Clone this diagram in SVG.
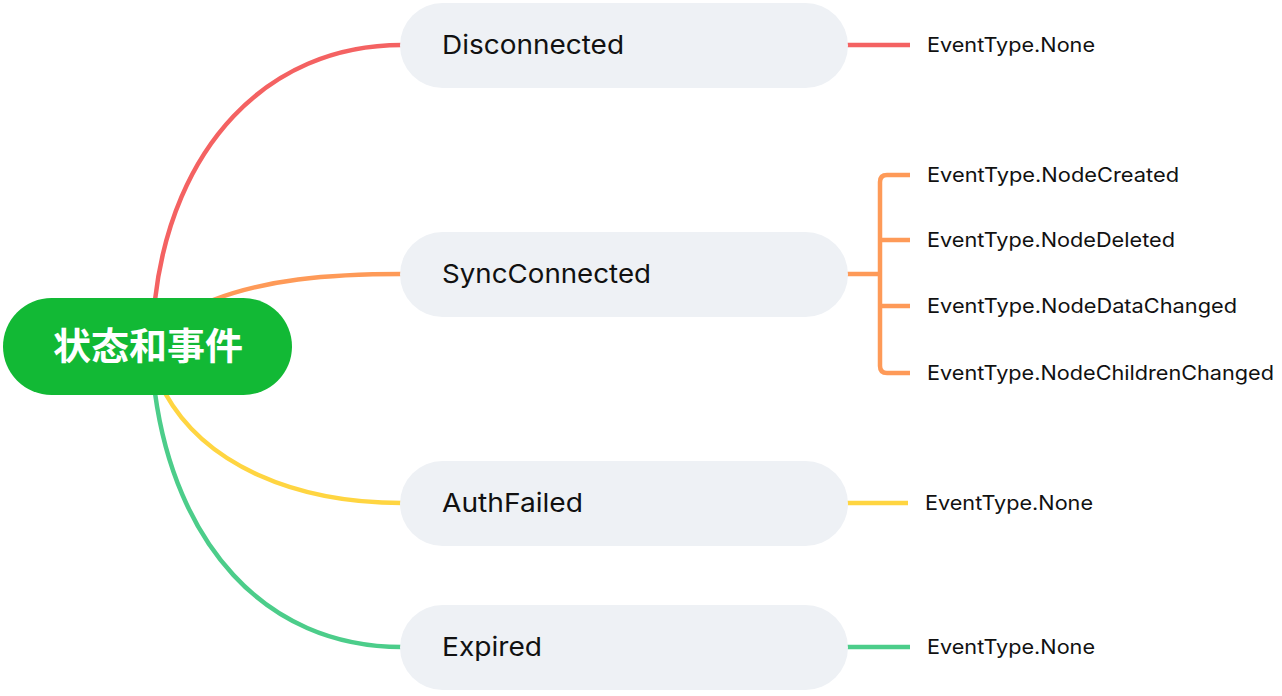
<svg xmlns="http://www.w3.org/2000/svg" width="1282" height="696" viewBox="0 0 1282 696">
<style>
.node rect{fill:#eef1f5}
.lbl{font-family:Inter,"Noto Sans","Liberation Sans",sans-serif;font-size:26px;fill:#111}
.leaf{font-family:Inter,"Noto Sans","Liberation Sans",sans-serif;font-size:20px;fill:#111}
.c{fill:none;stroke-width:4.5;stroke-linecap:butt}
.red{stroke:#f46262}
.org{stroke:#fe9a58}
.yel{stroke:#ffd541}
.grn{stroke:#4ccd8a}
</style>
<rect width="1282" height="696" fill="#fff"/>
<g id="connectors">
<path class="c red" d="M155,300 C172,150 265,45 402,45"/>
<path class="c org" d="M213,300 C265,280 325,274 402,274"/>
<path class="c yel" d="M165,393 C205,465 295,503 402,503"/>
<path class="c grn" d="M155,393 C175,540 262,647 402,647"/>
<path class="c red" d="M846,45 H910"/>
<path class="c org" d="M846,274 H880"/>
<path class="c org" d="M910,175 H887 Q880,175 880,182 V366 Q880,373 887,373 H910"/>
<path class="c org" d="M880,240 H910 M880,306 H910"/>
<path class="c yel" d="M846,503 H908"/>
<path class="c grn" d="M846,647 H910"/>
</g>
<g id="root">
<rect x="3" y="298" width="289" height="97" rx="48.5" fill="#12b935"/>
<text x="53" y="360" textLength="190" lengthAdjust="spacingAndGlyphs" font-family="'Noto Sans CJK SC',sans-serif" font-weight="bold" font-size="37" fill="#fff">状态和事件</text>
</g>
<g id="n-disconnected" class="node">
<rect x="400" y="3" width="448" height="85" rx="42.5"/>
<text class="lbl" x="442" y="54" textLength="182" lengthAdjust="spacingAndGlyphs">Disconnected</text>
</g>
<g id="n-syncconnected" class="node">
<rect x="400" y="232" width="448" height="85" rx="42.5"/>
<text class="lbl" x="442" y="283" textLength="209" lengthAdjust="spacingAndGlyphs">SyncConnected</text>
</g>
<g id="n-authfailed" class="node">
<rect x="400" y="461" width="448" height="85" rx="42.5"/>
<text class="lbl" x="442" y="512" textLength="141" lengthAdjust="spacingAndGlyphs">AuthFailed</text>
</g>
<g id="n-expired" class="node">
<rect x="400" y="605" width="448" height="85" rx="42.5"/>
<text class="lbl" x="442" y="656" textLength="100" lengthAdjust="spacingAndGlyphs">Expired</text>
</g>
<g id="leaf-disc-none"><text class="leaf" x="927" y="52" textLength="168" lengthAdjust="spacingAndGlyphs">EventType.None</text></g>
<g id="leaf-created"><text class="leaf" x="927" y="182" textLength="252" lengthAdjust="spacingAndGlyphs">EventType.NodeCreated</text></g>
<g id="leaf-deleted"><text class="leaf" x="927" y="247" textLength="248" lengthAdjust="spacingAndGlyphs">EventType.NodeDeleted</text></g>
<g id="leaf-datachanged"><text class="leaf" x="927" y="313" textLength="310" lengthAdjust="spacingAndGlyphs">EventType.NodeDataChanged</text></g>
<g id="leaf-childrenchanged"><text class="leaf" x="927" y="380" textLength="347" lengthAdjust="spacingAndGlyphs">EventType.NodeChildrenChanged</text></g>
<g id="leaf-auth-none"><text class="leaf" x="925" y="510" textLength="168" lengthAdjust="spacingAndGlyphs">EventType.None</text></g>
<g id="leaf-exp-none"><text class="leaf" x="927" y="654" textLength="168" lengthAdjust="spacingAndGlyphs">EventType.None</text></g>
</svg>
